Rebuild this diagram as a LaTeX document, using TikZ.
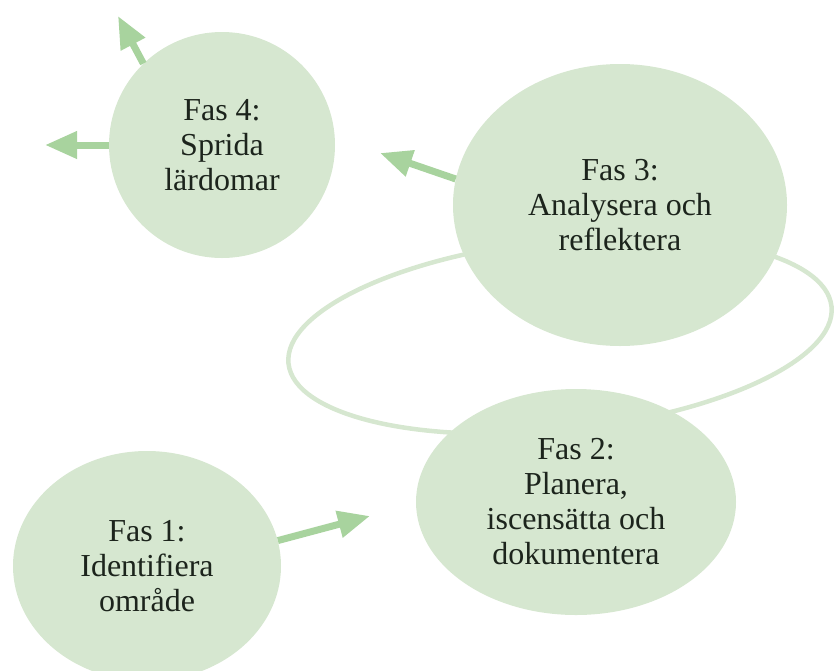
\documentclass[tikz,border=0pt]{standalone}
\usepackage{fontspec}
\setmainfont{Liberation Serif}
\usetikzlibrary{arrows.meta, shapes.geometric}

\definecolor{phasefill}{RGB}{214,231,208}
\definecolor{phasearrow}{RGB}{168,211,158}
\definecolor{phasetext}{RGB}{28,36,28}

\tikzset{
    phase/.style={ellipse, fill=phasefill, inner sep=0pt, align=center,
        text=phasetext, font=\fontsize{32}{35}\selectfont},
    flow/.style={-{Triangle[length=32pt, width=26pt]}, line width=7pt, phasearrow},
    cycleline/.style={draw=phasefill, line width=4.5pt}
}

\begin{document}
\begin{tikzpicture}[x=1pt, y=-1pt]

    \clip (0,0) rectangle (835,670);

    % Loop behind phase 2 and 3
    \draw[cycleline, rotate around={6:(560,335)}] (560,335) ellipse [x radius=273, y radius=95];

    % Phases
    \node[phase, minimum width=226pt, minimum height=226pt] (fas4) at (222,145) {Fas 4:\\Sprida\\lärdomar};
    \node[phase, minimum width=334pt, minimum height=282pt] (fas3) at (620,205) {Fas 3:\\Analysera och\\reflektera};
    \node[phase, minimum width=320pt, minimum height=226pt] (fas2) at (576,502) {Fas 2:\\Planera,\\iscensätta och\\dokumentera};
    \node[phase, minimum width=268pt, minimum height=230pt] (fas1) at (147,566) {Fas 1:\\Identifiera\\område};

    % Free ends of the arrows
    \coordinate (up4) at (118,16);
    \coordinate (left4) at (45,145);
    \coordinate (left3) at (380,153);
    \coordinate (right1) at (370,516);

    % Arrows
    \draw[flow] (fas4.134) -- (up4);
    \draw[flow] (fas4.west) -- (left4);
    \draw[flow] (fas3.171) -- (left3);
    \draw[flow] (fas1.11) -- (right1);

\end{tikzpicture}
\end{document}
